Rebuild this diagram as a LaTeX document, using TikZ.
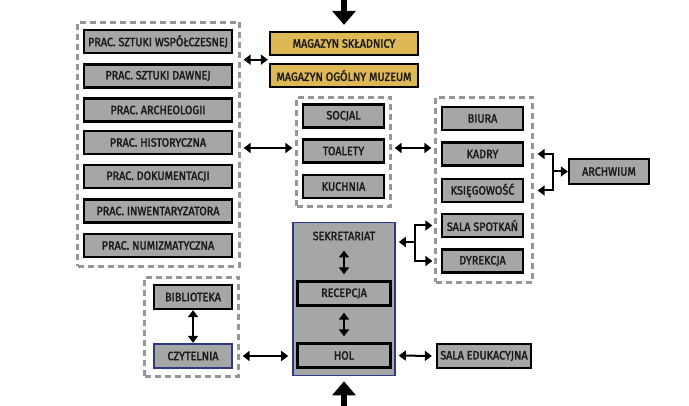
\documentclass[tikz,border=0pt]{standalone}
\usepackage{fontspec}
\setmainfont{Fira Sans}[FakeStretch=0.9,FakeBold=2]
\usetikzlibrary{arrows.meta,calc}
\definecolor{boxgray}{RGB}{166,166,166}
\definecolor{gold}{RGB}{222,184,85}
\definecolor{navy}{RGB}{46,56,140}
\definecolor{dashgray}{RGB}{150,150,150}
\begin{document}
\begin{tikzpicture}[x=1pt,y=-1pt,
  room/.style={draw=black,line width=2.3pt,fill=boxgray,inner sep=0pt,
    minimum height=23pt,font=\fontsize{12}{13}\selectfont,text=black!90},
  wide/.style={room,minimum width=148pt},
  mid/.style={room,minimum width=81pt},
  store/.style={room,fill=gold,minimum width=148pt},
  grp/.style={draw=dashgray,line width=2.3pt,dash pattern=on 6pt off 4pt,inner sep=0pt},
  lbl/.style={inner sep=0pt,font=\fontsize{12}{13}\selectfont,text=black!90},
  dbl/.style={{Triangle[length=7pt,width=10pt]}-{Triangle[length=7pt,width=10pt]},line width=2pt},
  one/.style={-{Triangle[length=7pt,width=10pt]},line width=2pt},
  big/.style={-{Triangle[length=14pt,width=23pt]},line width=6pt}
]
\useasboundingbox[fill=white] (0,0) rectangle (689,406);

% left group
\node[grp,minimum width=162pt,minimum height=244pt] (ldash) at (158.5,144.5) {};
\node[wide] (w1) at (158,41.5) {PRAC. SZTUKI WSPÓŁCZESNEJ};
\node[wide] (w2) at (158,76) {PRAC. SZTUKI DAWNEJ};
\node[wide] (w3) at (158,110) {PRAC. ARCHEOLOGII};
\node[wide] (w4) at (158,142.5) {PRAC. HISTORYCZNA};
\node[wide] (w5) at (158,176.5) {PRAC. DOKUMENTACJI};
\node[wide] (w6) at (158,211) {PRAC. INWENTARYZATORA};
\node[wide] (w7) at (158,245.5) {PRAC. NUMIZMATYCZNA};

% storage
\node[store] (m1) at (344,43.5) {MAGAZYN SKŁADNICY};
\node[store] (m2) at (344,75.5) {MAGAZYN OGÓLNY MUZEUM};

% social group
\node[grp,minimum width=94pt,minimum height=109pt] (sdash) at (343.5,152) {};
\node[mid] (soc) at (343.5,116) {SOCJAL};
\node[mid] (toa) at (343.5,151) {TOALETY};
\node[mid] (kuc) at (343.5,186.5) {KUCHNIA};

% office group
\node[grp,minimum width=97pt,minimum height=185pt] (rdash) at (484,190) {};
\node[mid] (biu) at (482.5,118.5) {BIURA};
\node[mid] (kad) at (482.5,154) {KADRY};
\node[mid] (ksi) at (482.5,190.5) {KSIĘGOWOŚĆ};
\node[mid] (sal) at (482.5,225.5) {SALA SPOTKAŃ};
\node[mid] (dyr) at (482.5,261) {DYREKCJA};
\node[room,minimum width=80pt,minimum height=25pt] (arc) at (609,171.5) {ARCHWIUM};

% library group
\node[grp,minimum width=94pt,minimum height=99pt] (bdash) at (191.5,327) {};
\node[room,minimum width=78pt,minimum height=24pt] (bib) at (193,297) {BIBLIOTEKA};
\node[room,draw=navy,minimum width=78pt,minimum height=24pt] (czy) at (193,356) {CZYTELNIA};

% secretariat
\node[draw=navy,fill=boxgray,line width=1.6pt,minimum width=102pt,minimum height=153pt,inner sep=0pt] (sek) at (344,299) {};
\node[lbl] (sekt) at (344,236) {SEKRETARIAT};
\node[room,minimum width=93pt,minimum height=24pt] (rec) at (344,293.5) {RECEPCJA};
\node[room,minimum width=93pt,minimum height=24pt] (hol) at (344,355.5) {HOL};
\node[room,minimum width=94pt,minimum height=24pt] (edu) at (484,356) {SALA EDUKACYJNA};

% coordinates
\coordinate (topin) at (344,0);
\coordinate (botin) at (344,406);
\coordinate (jA) at (553,171.5);
\coordinate (jS) at (415,242);

% connectors
\draw[big] (topin) -- ($(m1.north)+(0,-6)$);
\draw[big] (botin) -- ($(sek.south)+(0,5)$);
\draw[dbl] ($(ldash.east |- m1.south)+(3,3.5)$) -- ($(m1.south west)+(-1,3.5)$);
\draw[dbl] ($(ldash.east |- toa)+(3,-3)$) -- ($(sdash.west |- toa)+(-3,-3)$);
\draw[dbl] ($(sdash.east |- toa)+(3,-3)$) -- ($(rdash.west |- toa)+(-3,-3)$);
\draw[one] (jA) -- (arc.west);
\draw[one] (jA) |- ($(rdash.east |- kad)+(4,0)$);
\draw[one] (jA) |- ($(rdash.east |- ksi)+(4,0)$);
\draw[one] (jS) -- ($(sek.east |- jS)+(3,0)$);
\draw[one] (jS) |- ($(rdash.west |- sal)+(-2,0)$);
\draw[one] (jS) |- ($(rdash.west |- dyr)+(-2,0)$);
\draw[dbl] ($(sekt.south)+(0,10)$) -- ($(rec.north)+(0,-6)$);
\draw[dbl] ($(rec.south)+(0,6)$) -- ($(hol.north)+(0,-6)$);
\draw[dbl] (bib.south) -- (czy.north);
\draw[dbl] ($(bdash.east |- czy)+(3,0)$) -- ($(sek.west |- czy)+(-4,0)$);
\draw[dbl] ($(sek.east |- hol)+(3,0)$) -- ($(edu.west)+(-4,0)$);
\end{tikzpicture}
\end{document}
